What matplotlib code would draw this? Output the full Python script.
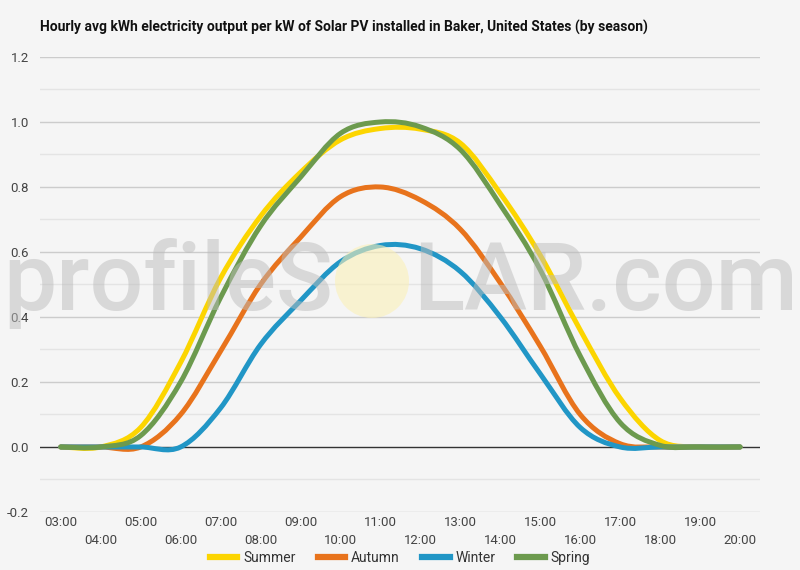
import matplotlib
matplotlib.use("Agg")
import matplotlib.pyplot as plt
import numpy as np
from matplotlib.lines import Line2D
from matplotlib.patches import Circle, PathPatch
from matplotlib.path import Path

plt.rcParams["font.family"] = ["Roboto", "DejaVu Sans"]

hours = ["03:00", "04:00", "05:00", "06:00", "07:00", "08:00", "09:00", "10:00", "11:00",
         "12:00", "13:00", "14:00", "15:00", "16:00", "17:00", "18:00", "19:00", "20:00"]
summer = [0.0, 0.0, 0.06, 0.26, 0.52, 0.71, 0.845, 0.945, 0.98, 0.978, 0.935, 0.78,
          0.59, 0.36, 0.15, 0.02, 0.0, 0.0]
autumn = [0.0, 0.0, 0.0, 0.10, 0.295, 0.50, 0.645, 0.77, 0.80, 0.76, 0.67, 0.505,
          0.31, 0.10, 0.01, 0.0, 0.0, 0.0]
winter = [0.0, 0.0, 0.0, 0.0, 0.12, 0.315, 0.45, 0.57, 0.62, 0.61, 0.54, 0.40,
          0.225, 0.06, 0.0, 0.0, 0.0, 0.0]
spring = [0.0, 0.0, 0.035, 0.20, 0.46, 0.68, 0.83, 0.965, 1.0, 0.985, 0.915, 0.745,
          0.545, 0.28, 0.075, 0.005, 0.0, 0.0]

series = [("Summer", summer, "#fcd500"),
          ("Autumn", autumn, "#e8731c"),
          ("Winter", winter, "#2196c6"),
          ("Spring", spring, "#6c9a4e")]


def smooth_path(ys):
    """Cubic Bezier through the points (Catmull-Rom tangents)."""
    pts = np.column_stack([np.arange(len(ys)), ys]).astype(float)
    verts = [pts[0]]
    codes = [Path.MOVETO]
    n = len(pts)
    for i in range(n - 1):
        p0 = pts[max(i - 1, 0)]
        p1, p2 = pts[i], pts[i + 1]
        p3 = pts[min(i + 2, n - 1)]
        c1 = p1 + (p2 - p0) / 6.0
        c2 = p2 - (p3 - p1) / 6.0
        verts += [c1, c2, p2]
        codes += [Path.CURVE4] * 3
    return Path(verts, codes)


fig = plt.figure(figsize=(8, 5.7), dpi=100, facecolor="#f5f5f5")
ax = fig.add_axes([0.05, 0.1018, 0.90, 0.7982])
ax.set_facecolor("#f5f5f5")

ax.set_xlim(-0.52, len(hours) - 0.5)
ax.set_ylim(-0.2, 1.2)

for v in np.arange(-0.2, 1.21, 0.1):
    major = abs(round(v * 10)) % 2 == 0
    if abs(v) < 1e-9:
        continue
    ax.axhline(v, color="#cccccc" if major else "#e4e4e4", lw=1.0, zorder=0)
ax.axhline(0, color="#333333", lw=1.0, zorder=1)

for name, vals, col in series:
    ax.add_patch(PathPatch(smooth_path(vals), fill=False, edgecolor=col, lw=3.6,
                           capstyle="round", joinstyle="round", zorder=3))

for s in ax.spines.values():
    s.set_visible(False)

ax.set_yticks(np.arange(-0.2, 1.21, 0.2))
ax.set_yticklabels([f"{v:.1f}" for v in np.arange(-0.2, 1.21, 0.2)])
ax.tick_params(axis="y", length=0, labelsize=9.5, labelcolor="#444444", pad=8)

ax.set_xticks(range(len(hours)))
ax.set_xticklabels([])
ax.tick_params(axis="x", length=0)
for i, lab in enumerate(hours):
    off = 0 if i % 2 == 0 else 1
    ax.annotate(lab, (i, 0), xycoords=("data", "axes fraction"),
                xytext=(0, -4 - off * 18), textcoords="offset pixels",
                ha="center", va="top", fontsize=9.5, color="#444444")

# watermark
fig.text(0.416, 0.456, "profileS", ha="right", va="baseline", fontsize=68,
         fontweight="medium", color="#bcbcbc", alpha=0.5, zorder=10)
fig.text(0.516, 0.456, "LAR.com", ha="left", va="baseline", fontsize=68,
         fontweight="medium", color="#bcbcbc", alpha=0.5, zorder=10)
fig.patches.append(Circle((372, 570 - 281), 37, transform=None,
                          facecolor="#fbf0b8", edgecolor="none", alpha=0.6, zorder=9))

fig.text(0.05, 0.951, "Hourly avg kWh electricity output per kW of Solar PV installed in Baker, "
         "United States (by season)", ha="left", va="center", fontsize=10,
         fontweight="bold", color="#111111")

handles = [Line2D([], [], color=c, lw=4.5) for _, _, c in series]
fig.legend(handles, [s[0] for s in series], loc="center", bbox_to_anchor=(0.5, 0.021),
           ncol=4, frameon=False, fontsize=10, handlelength=2.0, handletextpad=0.4,
           columnspacing=1.6, labelcolor="#333333")

fig.savefig("out.png", dpi=100, facecolor=fig.get_facecolor())
